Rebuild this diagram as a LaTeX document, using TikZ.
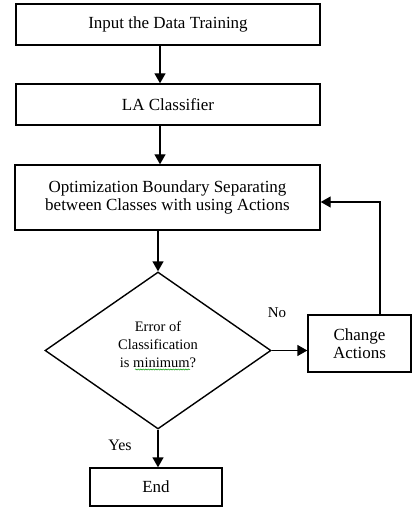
\documentclass[tikz,border=0pt]{standalone}
\usepackage{fontspec}
\setmainfont{Liberation Serif}
\usetikzlibrary{arrows.meta,shapes.geometric,decorations.pathmorphing}
\begin{document}
\begin{tikzpicture}[x=1pt,y=-1pt,
  box/.style={draw, line width=1.4pt, inner sep=0pt, align=center, font=\fontsize{17}{18}\selectfont},
  arr/.style={draw, line width=1.4pt, -{Triangle[length=10pt,width=11pt]}},
  lbl/.style={inner sep=0pt, align=center, font=\fontsize{14.5}{18}\selectfont}]
\useasboundingbox (0,0) rectangle (412,510);
\node[box, minimum width=304pt, minimum height=41pt] (input) at (168,24.5) {Input the Data Training};
\node[box, minimum width=304pt, minimum height=41pt] (la) at (168,104.5) {LA Classifier};
\node[box, minimum width=305pt, minimum height=65pt] (opt) at (167.5,197.5) {Optimization Boundary Separating\\between Classes with using Actions};
\node[draw, line width=1.4pt, diamond, inner sep=0pt, minimum width=226pt, minimum height=157pt] (dia) at (158,350.5) {};
\node[lbl] (diatext) at (158,344) {Error of\\Classification\\is minimum?};
\node[box, minimum width=103pt, minimum height=57pt] (chg) at (359.5,343.5) {Change\\Actions};
\node[box, minimum width=132pt, minimum height=38pt] (end) at (156,487) {End};
\node[lbl, font=\fontsize{15}{18}\selectfont] (no) at (277,313) {No};
\node[lbl, font=\fontsize{16}{18}\selectfont] (yes) at (120,445) {Yes};
\draw[arr] (input.south -| 160,0) -- (la.north -| 160,0);
\draw[arr] (la.south -| 160,0) -- (opt.north -| 160,0);
\draw[arr] (opt.south -| dia.north) -- (dia.north);
\draw[arr] (dia.east) -- (dia.east -| chg.west);
\draw[arr] ([xshift=20.5pt]chg.north) |- ([yshift=-4.5pt]opt.east);
\draw[arr] (dia.south) -- (dia.south |- end.north);
\draw[green!60!black, line width=0.5pt, decorate, decoration={snake, amplitude=0.6pt, segment length=2.5pt}] (135,369.5) -- (190,369.5);
\end{tikzpicture}
\end{document}
